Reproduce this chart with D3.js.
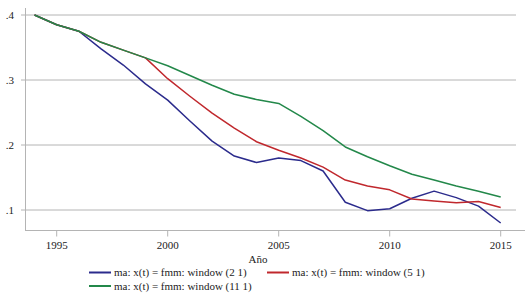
<!DOCTYPE html>
<html>
<head>
<meta charset="utf-8">
<script src="https://cdn.jsdelivr.net/npm/d3@7"></script>
<style>
  body { margin: 0; background: #fff; }
  svg { display: block; }
</style>
</head>
<body>
<div id="chart"></div>
<script>
// datos
const anios = d3.range(1994, 2016);
const serieVentana2 = [0.400, 0.385, 0.375, 0.348, 0.323, 0.294, 0.269, 0.237, 0.206, 0.183, 0.173,
                       0.180, 0.176, 0.160, 0.112, 0.099, 0.102, 0.118, 0.129, 0.119, 0.106, 0.080];
const serieVentana5 = [0.400, 0.385, 0.375, 0.358, 0.346, 0.334, 0.302, 0.275, 0.249, 0.226, 0.205,
                       0.192, 0.180, 0.166, 0.146, 0.137, 0.131, 0.117, 0.114, 0.111, 0.113, 0.104];
const serieVentana11 = [0.400, 0.385, 0.375, 0.358, 0.346, 0.334, 0.322, 0.307, 0.292, 0.278, 0.270,
                        0.264, 0.244, 0.222, 0.197, 0.182, 0.168, 0.155, 0.146, 0.137, 0.129, 0.120];
const nombresSeries = ["ma: x(t) = fmm: window (2 1)", "ma: x(t) = fmm: window (5 1)", "ma: x(t) = fmm: window (11 1)"];
const ticksX = [1995, 2000, 2005, 2010, 2015];
const ticksY = [0.1, 0.2, 0.3, 0.4];

const series = [
  { nombre: nombresSeries[0], valores: serieVentana2, color: "#2b2b8c" },
  { nombre: nombresSeries[1], valores: serieVentana5, color: "#c0282d" },
  { nombre: nombresSeries[2], valores: serieVentana11, color: "#23884a" }
];

const ancho = 531, alto = 297;
const svg = d3.select("#chart").append("svg")
  .attr("width", ancho).attr("height", alto)
  .attr("font-family", "'Liberation Serif', 'DejaVu Serif', serif")
  .attr("fill", "#222");

// escalas
const x = d3.scaleLinear().domain([1994, 2015]).range([34.5, 500.7]);
const y = d3.scaleLinear().domain([0.1, 0.4]).range([210, 15]);

const gris = "#b4b4b4";

// rejilla horizontal
svg.append("g").selectAll("line")
  .data(ticksY).enter().append("line")
  .attr("x1", 21).attr("x2", 516)
  .attr("y1", d => y(d)).attr("y2", d => y(d))
  .attr("stroke", gris).attr("stroke-width", 1);

// eje Y
svg.append("line").attr("x1", 25.5).attr("x2", 25.5).attr("y1", 8).attr("y2", 230.5)
  .attr("stroke", gris);
svg.append("g").selectAll("text")
  .data(ticksY).enter().append("text")
  .attr("x", 14).attr("y", d => y(d))
  .attr("dy", "0.35em").attr("text-anchor", "end")
  .attr("font-size", 11)
  .text(d => d3.format(".1f")(d).replace(/^0/, ""));

// eje X
const ejeX = svg.append("g").attr("transform", "translate(0,230.5)");
ejeX.append("line").attr("x1", 25).attr("x2", 525).attr("stroke", gris);
ejeX.selectAll(".tick").data(ticksX).enter().append("line")
  .attr("x1", d => x(d)).attr("x2", d => x(d))
  .attr("y1", 0).attr("y2", 6).attr("stroke", gris);
ejeX.selectAll("text").data(ticksX).enter().append("text")
  .attr("x", d => x(d)).attr("y", 18)
  .attr("text-anchor", "middle").attr("font-size", 11)
  .text(d => d);
svg.append("text").attr("x", 258).attr("y", 263)
  .attr("text-anchor", "middle").attr("font-size", 11).text("Año");

// líneas
const linea = d3.line().x((d, i) => x(anios[i])).y(d => y(d));
series.forEach(s => {
  svg.append("path").datum(s.valores)
    .attr("d", linea)
    .attr("fill", "none")
    .attr("stroke", s.color)
    .attr("stroke-width", 1.5)
    .attr("stroke-linejoin", "round");
});

// leyenda
const posLeyenda = [[89, 272.5], [267, 272.5], [89, 286]];
series.forEach((s, i) => {
  const [lx, ly] = posLeyenda[i];
  svg.append("line").attr("x1", lx).attr("x2", lx + 22)
    .attr("y1", ly).attr("y2", ly)
    .attr("stroke", s.color).attr("stroke-width", 2);
  svg.append("text").attr("x", lx + 25).attr("y", ly)
    .attr("dy", "0.35em").attr("font-size", 11)
    .text(s.nombre);
});
</script>
</body>
</html>
